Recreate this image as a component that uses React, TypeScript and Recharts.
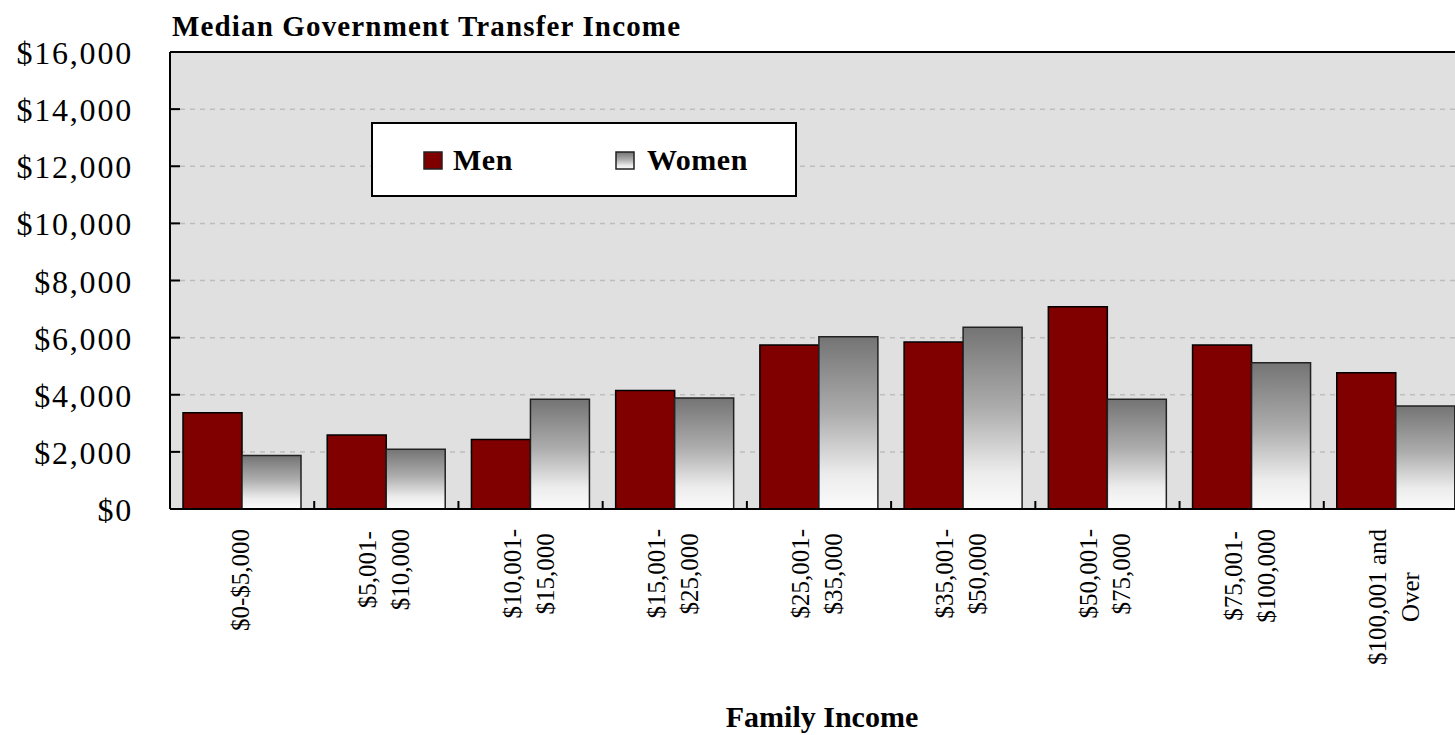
import React from 'react';
import { BarChart, Bar, XAxis, YAxis, CartesianGrid, Legend, ReferenceLine } from 'recharts';

// ---------- data ----------
const categoryLines: string[][] = [
  ['$0-$5,000'],
  ['$5,001-', '$10,000'],
  ['$10,001-', '$15,000'],
  ['$15,001-', '$25,000'],
  ['$25,001-', '$35,000'],
  ['$35,001-', '$50,000'],
  ['$50,001-', '$75,000'],
  ['$75,001-', '$100,000'],
  ['$100,001 and', 'Over'],
];
const categories = categoryLines.map((l) => l.join(' '));
const menValues = [3370, 2590, 2430, 4150, 5740, 5850, 7080, 5740, 4770];
const womenValues = [1870, 2090, 3840, 3890, 6030, 6360, 3840, 5120, 3610];
const yTicks = [0, 2000, 4000, 6000, 8000, 10000, 12000, 14000, 16000];
const seriesNames = ['Men', 'Women'];
const chartTitle = 'Median Government Transfer Income';
const xAxisTitle = 'Family Income';

const data = categories.map((c, i) => ({
  cat: c,
  [seriesNames[0]]: menValues[i],
  [seriesNames[1]]: womenValues[i],
}));

// ---------- styles ----------
const SERIF = '"Liberation Serif", "Times New Roman", Times, serif';
const MEN_FILL = '#800000';
const WOMEN_FILL = 'url(#womenGrad)';

let measureCtx: CanvasRenderingContext2D | null = null;
function measure(text: string, font: string): number {
  if (!measureCtx && typeof document !== 'undefined') {
    measureCtx = document.createElement('canvas').getContext('2d');
  }
  if (!measureCtx) return text.length * 12;
  measureCtx.font = font;
  return measureCtx.measureText(text).width;
}

const fmtMoney = (v: number) => '$' + v.toLocaleString('en-US');

const YTick = (props: any) => {
  const { x, y, payload } = props;
  return (
    <g>
      <line x1={x + 39} x2={x + 49} y1={y} y2={y} stroke="#000" strokeWidth={2} />
      <text
        x={x + 2}
        y={y}
        dy={12}
        textAnchor="end"
        fontFamily={SERIF}
        fontSize={32}
        letterSpacing={1.8}
        fill="#000"
      >
        {fmtMoney(payload.value)}
      </text>
    </g>
  );
};

const XTick = (props: any) => {
  const { x, y, payload } = props;
  const idx = categories.indexOf(payload.value);
  const lines = idx >= 0 ? categoryLines[idx] : [String(payload.value)];
  const font = `25px ${SERIF}`;
  const maxW = Math.max(...lines.map((l) => measure(l, font)));
  const cy = y - 1 + maxW / 2;
  const half = typeof payload.offset === 'number' && payload.offset > 0 ? payload.offset : 72.1;
  const axisY = y - 21;
  return (
    <g>
      <line x1={x + half} x2={x + half} y1={axisY} y2={axisY - 8} stroke="#000" strokeWidth={2} />
      {lines.map((l, i) => {
        const cx = x - 2 + (i - (lines.length - 1) / 2) * 33;
        return (
          <text
            key={i}
            transform={`translate(${cx},${cy}) rotate(-90)`}
            textAnchor="middle"
            dominantBaseline="central"
            fontFamily={SERIF}
            fontSize={25}
            fill="#000"
          >
            {l}
          </text>
        );
      })}
    </g>
  );
};

const LegendBox = (props: any) => {
  const payload: any[] = props.payload || [];
  const byName: Record<string, any> = {};
  payload.forEach((p) => (byName[p.value] = p));
  const layout = [
    { sq: 50, tx: 80 },
    { sq: 242, tx: 274 },
  ];
  return (
    <div
      style={{
        position: 'relative',
        width: 426,
        height: 75,
        boxSizing: 'border-box',
        border: '2px solid #000',
        background: '#fff',
      }}
    >
      {seriesNames.map((name, i) => {
        const fill = i === 0 ? MEN_FILL : WOMEN_FILL;
        const label = byName[name] ? byName[name].value : name;
        return (
          <React.Fragment key={name}>
            <svg
              width={20}
              height={19}
              style={{ position: 'absolute', left: layout[i].sq, top: 27 }}
            >
              <rect x={1} y={1} width={18} height={17} fill={fill} stroke="#222" strokeWidth={1.5} />
            </svg>
            <div
              style={{
                position: 'absolute',
                left: layout[i].tx,
                top: 21,
                fontFamily: SERIF,
                fontWeight: 'bold',
                fontSize: 30,
                lineHeight: '30px',
                letterSpacing: 0.5,
                whiteSpace: 'nowrap',
                color: '#000',
              }}
            >
              {label}
            </div>
          </React.Fragment>
        );
      })}
    </div>
  );
};

export default function App() {
  return (
    <div
      style={{
        position: 'fixed',
        left: 0,
        top: 0,
        width: 1455,
        height: 735,
        overflow: 'hidden',
        background: '#fff',
      }}
    >
      <BarChart
        width={1500}
        height={735}
        data={data}
        margin={{ top: 52, right: 32, left: 0, bottom: 0 }}
        barCategoryGap={13}
        barGap={0}
        style={{ fontFamily: SERIF }}
      >
        <defs>
          <linearGradient id="womenGrad" x1="0" y1="0" x2="0" y2="1">
            <stop offset="0%" stopColor="#747474" />
            <stop offset="45%" stopColor="#adadad" />
            <stop offset="80%" stopColor="#ececec" />
            <stop offset="100%" stopColor="#fbfbfb" />
          </linearGradient>
        </defs>
        <CartesianGrid
          vertical={false}
          fill="#e0e0e0"
          fillOpacity={1}
          stroke="#bdbdbd"
          strokeWidth={1.5}
          strokeDasharray="5 5"
        />
        <XAxis
          dataKey="cat"
          height={226}
          interval={0}
          tickLine={false}
          tickSize={0}
          tickMargin={21}
          axisLine={{ stroke: '#000', strokeWidth: 2 }}
          tick={<XTick />}
        />
        <YAxis
          width={170}
          domain={[0, 16000]}
          ticks={yTicks}
          interval={0}
          tickLine={false}
          tickSize={0}
          tickMargin={39}
          axisLine={{ stroke: '#000', strokeWidth: 2 }}
          tick={<YTick />}
        />
        <ReferenceLine y={16000} stroke="#000" strokeWidth={2} />
        <Legend
          layout="horizontal"
          verticalAlign="middle"
          align="center"
          wrapperStyle={{ left: 371, top: 122, width: 426, height: 75 }}
          content={<LegendBox />}
        />
        <Bar
          dataKey={seriesNames[0]}
          fill={MEN_FILL}
          stroke="#000"
          strokeWidth={1.5}
          isAnimationActive={false}
        />
        <Bar
          dataKey={seriesNames[1]}
          fill={WOMEN_FILL}
          stroke="#222"
          strokeWidth={1.5}
          isAnimationActive={false}
        />
      </BarChart>
      <svg
        width={1455}
        height={735}
        style={{ position: 'absolute', left: 0, top: 0, pointerEvents: 'none' }}
      >
        <text
          x={172}
          y={36}
          fontFamily={SERIF}
          fontWeight="bold"
          fontSize={29}
          textLength={508}
          lengthAdjust="spacing"
          fill="#000"
        >
          {chartTitle}
        </text>
        <text
          x={822}
          y={727}
          textAnchor="middle"
          fontFamily={SERIF}
          fontWeight="bold"
          fontSize={30}
          fill="#000"
        >
          {xAxisTitle}
        </text>
      </svg>
    </div>
  );
}
